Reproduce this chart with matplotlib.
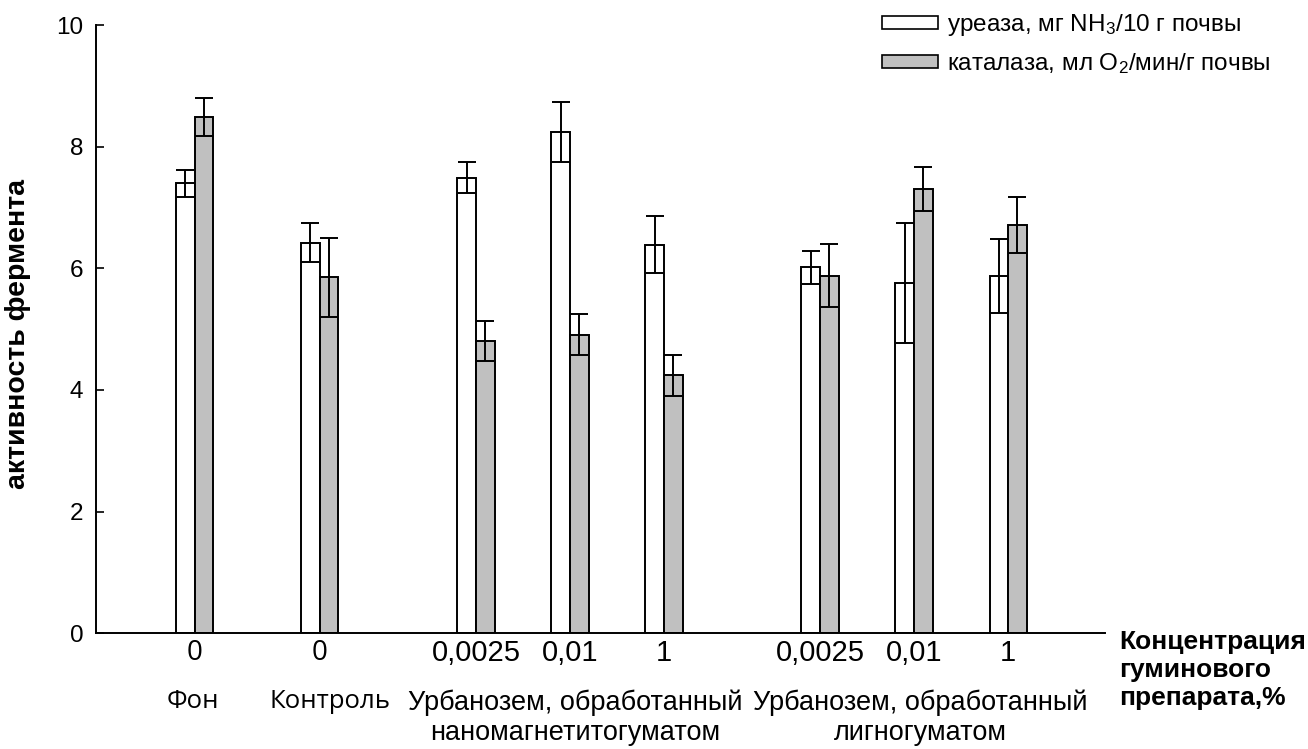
import matplotlib
matplotlib.use("Agg")
import matplotlib.pyplot as plt
from matplotlib.patches import Patch

plt.rcParams['font.family'] = ['Liberation Sans', 'DejaVu Sans']
plt.rcParams['mathtext.fontset'] = 'custom'
plt.rcParams['mathtext.rm'] = 'Liberation Sans'
plt.rcParams['mathtext.it'] = 'Liberation Sans:italic'
plt.rcParams['mathtext.bf'] = 'Liberation Sans:bold'

# ---- data ----
conc_labels = ["0", "0", "0,0025", "0,01", "1", "0,0025", "0,01", "1"]
urease = [7.40, 6.42, 7.49, 8.24, 6.39, 6.02, 5.76, 5.88]
urease_err = [0.22, 0.32, 0.25, 0.49, 0.47, 0.27, 0.98, 0.61]
catalase = [8.49, 5.85, 4.81, 4.91, 4.24, 5.88, 7.31, 6.71]
catalase_err = [0.31, 0.65, 0.33, 0.34, 0.34, 0.52, 0.36, 0.46]
group_labels = ["Фон", "Контроль",
                "Урбанозем, обработанный\nнаномагнетитогуматом",
                "Урбанозем, обработанный\nлигногуматом"]
legend_labels = [r"уреаза, мг NH$_\mathregular{3}$/10 г почвы",
                 r"каталаза, мл O$_\mathregular{2}$/мин/г почвы"]
ylabel = "активность фермента"
xlabel = "Концентрация\nгуминового\nпрепарата,%"

# ---- layout ----
W, H = 1308, 749
fig = plt.figure(figsize=(W / 100, H / 100), dpi=100)
ax = fig.add_axes([96 / W, 1 - 633.3 / H, (1105 - 96) / W, (633.3 - 25) / H])

centers = [1.05, 2.38, 4.04, 5.04, 6.04, 7.70, 8.70, 9.70]
group_x = [1.03, 2.49, 5.10, 8.77]
bw = 0.198

ux = [c - bw / 2 for c in centers]
cx = [c + bw / 2 for c in centers]
ax.bar(ux, urease, width=bw, color='white', edgecolor='black', linewidth=1.4, zorder=2)
ax.bar(cx, catalase, width=bw, color='#c0c0c0', edgecolor='black', linewidth=1.4, zorder=2)
ax.errorbar(ux, urease, yerr=urease_err, fmt='none', ecolor='black', elinewidth=1.4,
            capsize=6.2, capthick=1.4, zorder=3)
ax.errorbar(cx, catalase, yerr=catalase_err, fmt='none', ecolor='black', elinewidth=1.4,
            capsize=6.2, capthick=1.4, zorder=3)

ax.set_xlim(0, 10.73)
ax.set_ylim(0, 10)
for s in ['top', 'right']:
    ax.spines[s].set_visible(False)
for s in ['left', 'bottom']:
    ax.spines[s].set_linewidth(1.4)

ax.set_yticks([0, 2, 4, 6, 8, 10])
ax.tick_params(axis='y', direction='in', length=6, width=1.2, labelsize=17.5, pad=9)
ax.set_xticks(centers)
ax.set_xticklabels(conc_labels)
ax.tick_params(axis='x', length=0, labelsize=21, pad=4)
for i, t in enumerate(ax.get_xticklabels()):
    if i < 2:
        t.set_family(['Open Sans', 'DejaVu Sans'])
        t.set_fontsize(20)

trans = matplotlib.transforms.blended_transform_factory(ax.transData, fig.transFigure)
for i, (gx, gl) in enumerate(zip(group_x, group_labels)):
    if i < 2:
        ax.text(gx, 1 - 702 / H, gl, transform=trans, ha='center', va='center',
                fontsize=18.5, family=['Open Sans', 'DejaVu Sans'])
    else:
        ax.text(gx, 1 - 689 / H, gl, transform=trans, ha='center', va='top',
                fontsize=19.5, linespacing=1.2)

fig.text(18 / W, 1 - 334 / H, ylabel, rotation=90, ha='center', va='center',
         fontsize=20.5, fontweight='bold')
fig.text(1119 / W, 1 - 670 / H, xlabel, ha='left', va='center',
         fontsize=19, fontweight='bold', linespacing=1.2)

handles = [Patch(facecolor='white', edgecolor='black', linewidth=1.2),
           Patch(facecolor='#c0c0c0', edgecolor='black', linewidth=1.2)]
fig.legend(handles, legend_labels, loc='upper left', bbox_to_anchor=(882 / W, 1 - 12 / H),
           frameon=False, fontsize=17.5, handlelength=2.3, handleheight=0.45,
           handletextpad=0.37, labelspacing=0.55, borderpad=0, borderaxespad=0)

fig.savefig("out.png", dpi=100)
